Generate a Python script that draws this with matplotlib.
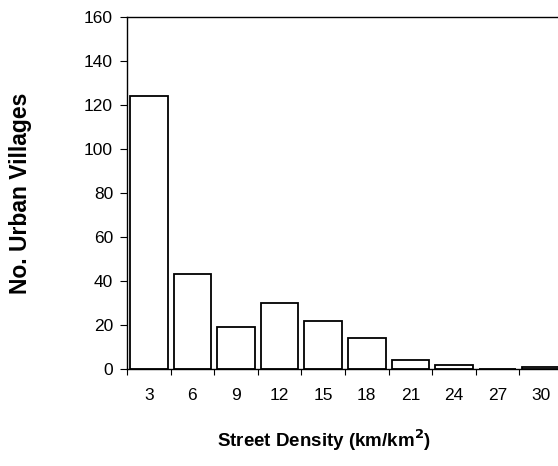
import matplotlib
matplotlib.use("Agg")
import matplotlib.pyplot as plt
import numpy as np

categories = ["3", "6", "9", "12", "15", "18", "21", "24", "27", "30"]
counts = [124, 43, 19, 30, 22, 14, 4, 2, 0, 1]
yticks = [0, 20, 40, 60, 80, 100, 120, 140, 160]

plt.rcParams['font.family'] = ['Liberation Sans', 'DejaVu Sans']

fig = plt.figure(figsize=(5.58, 4.66), dpi=100)
W, H = 558, 466
left, right, top, bottom = 127, 563, 17, 369
ax = fig.add_axes([left / W, (H - bottom) / H, (right - left) / W, (bottom - top) / H])

x = np.arange(len(categories))
ax.bar(x, counts, width=0.86, color='white', edgecolor='black', linewidth=1.3)

ax.set_xlim(-0.5, len(categories) - 0.5)
ax.set_ylim(0, 160)
ax.set_yticks(yticks)
ax.set_yticklabels([str(v) for v in yticks], fontsize=12.5)
ax.set_xticks(x)
ax.set_xticklabels(categories, fontsize=12.5)
ax.set_xticks(np.arange(len(categories) + 1) - 0.5, minor=True)
ax.tick_params(axis='x', which='major', length=0, pad=14)
ax.tick_params(axis='x', which='minor', length=4, direction='out', width=0.8)
ax.tick_params(axis='y', which='major', length=5, direction='out', width=0.8, pad=5)
for s in ax.spines.values():
    s.set_linewidth(1.0)

fig.text(324 / W, 1 - 440 / H, "Street Density (km/km$^\\mathbf{2}$)", fontsize=13.5,
         fontweight='bold', ha='center', va='center')
fig.text(21 / W, 1 - 193 / H, "No. Urban Villages", fontsize=16.5, fontweight='bold',
         ha='center', va='center', rotation=90)

fig.savefig("out.png", dpi=100)
